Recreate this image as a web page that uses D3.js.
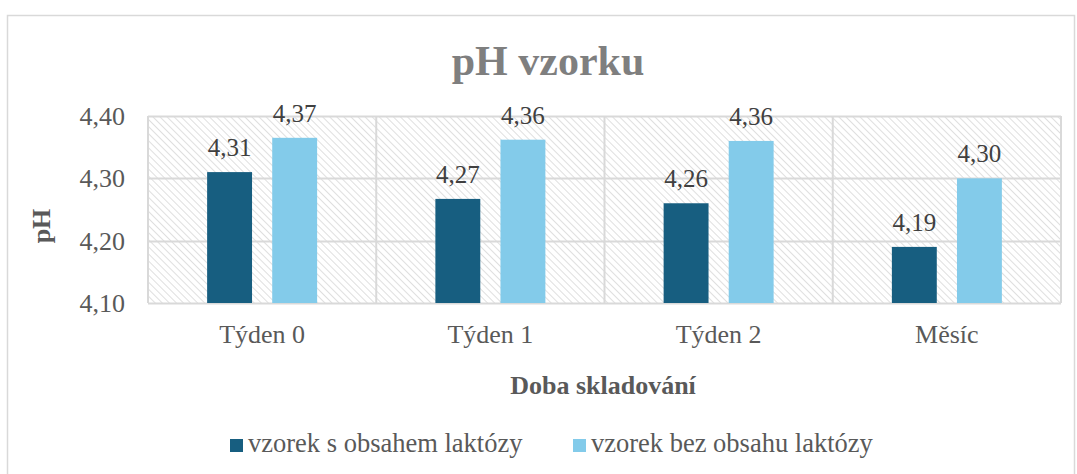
<!DOCTYPE html>
<html>
<head>
<meta charset="utf-8">
<script src="https://cdn.jsdelivr.net/npm/d3@7"></script>
<style>
	body { margin: 0; background: #fff; }
</style>
</head>
<body>
<svg id="chart" width="1077" height="474"></svg>
<script>
var categories = ["Týden 0", "Týden 1", "Týden 2", "Měsíc"];
var seriesNames = ["vzorek s obsahem laktózy", "vzorek bez obsahu laktózy"];
var withLactose = [4.31, 4.267, 4.26, 4.19];
var withoutLactose = [4.365, 4.362, 4.36, 4.30];
var valueLabels = [["4,31", "4,27", "4,26", "4,19"], ["4,37", "4,36", "4,36", "4,30"]];
var yTicks = [4.10, 4.20, 4.30, 4.40];
var colours = ["#175e80", "#83cbea"];

var font = "Liberation Serif";
var svg = d3.select("#chart");
var margin = {top: 116, left: 148, right: 1061, bottom: 303};

// outer frame
svg.append("rect")
	.attr("x", 7.5).attr("y", 15.5)
	.attr("width", 1067).attr("height", 470)
	.attr("fill", "#fff")
	.attr("stroke", "#d9d9d9")
	.attr("stroke-width", 1.5);

// hatch pattern for plot area
var defs = svg.append("defs");
var pat = defs.append("pattern")
	.attr("id", "hatch")
	.attr("patternUnits", "userSpaceOnUse")
	.attr("width", 5).attr("height", 5)
	.attr("patternTransform", "rotate(-45)");
pat.append("rect").attr("width", 5).attr("height", 5).attr("fill", "#fff");
pat.append("line")
	.attr("x1", 0).attr("y1", 0).attr("x2", 0).attr("y2", 5)
	.attr("stroke", "#dcdcdc").attr("stroke-width", 1.8);

var x = d3.scaleBand()
	.domain(categories)
	.range([margin.left, margin.right]);
var x1 = d3.scaleBand()
	.domain([0, 1])
	.range([0, 110])
	.paddingInner(0.31);
var y = d3.scaleLinear()
	.domain([4.10, 4.40])
	.range([margin.bottom, margin.top]);

svg.append("rect")
	.attr("x", margin.left).attr("y", margin.top)
	.attr("width", margin.right - margin.left)
	.attr("height", margin.bottom - margin.top)
	.attr("fill", "url(#hatch)");

// gridlines
svg.append("g")
	.selectAll("line")
	.data(yTicks)
	.join("line")
	.attr("x1", margin.left).attr("x2", margin.right)
	.attr("y1", function(d) { return Math.round(y(d)) + 0.5; })
	.attr("y2", function(d) { return Math.round(y(d)) + 0.5; })
	.attr("stroke", "#d9d9d9").attr("stroke-width", 2);

// vertical category separators
svg.append("g")
	.selectAll("line")
	.data(categories.concat(["end"]))
	.join("line")
	.attr("x1", function(d, i) { return i < categories.length ? x(d) : margin.right; })
	.attr("x2", function(d, i) { return i < categories.length ? x(d) : margin.right; })
	.attr("y1", margin.top).attr("y2", margin.bottom)
	.attr("stroke", "#d9d9d9").attr("stroke-width", 2);

// bars
var series = [withLactose, withoutLactose];
series.forEach(function(vals, s) {
	var g = svg.append("g");
	g.selectAll("rect")
		.data(vals)
		.join("rect")
		.attr("x", function(d, i) { return x(categories[i]) + x.bandwidth() / 2 - 55 + x1(s); })
		.attr("y", function(d) { return y(d); })
		.attr("width", x1.bandwidth())
		.attr("height", function(d) { return y(4.10) - y(d); })
		.attr("fill", colours[s]);
	g.selectAll("text")
		.data(vals)
		.join("text")
		.attr("x", function(d, i) { return x(categories[i]) + x.bandwidth() / 2 - 55 + x1(s) + x1.bandwidth() / 2; })
		.attr("y", function(d) { return y(d) - 16; })
		.attr("text-anchor", "middle")
		.attr("font-family", font)
		.attr("font-size", 25)
		.attr("fill", "#404040")
		.text(function(d, i) { return valueLabels[s][i]; });
});

// y axis labels
svg.append("g")
	.selectAll("text")
	.data(yTicks)
	.join("text")
	.attr("x", 125)
	.attr("y", function(d) { return y(d) + 9; })
	.attr("text-anchor", "end")
	.attr("font-family", font)
	.attr("font-size", 26)
	.attr("fill", "#595959")
	.text(function(d) { return d3.format(".2f")(d).replace(".", ","); });

// x axis labels
svg.append("g")
	.selectAll("text")
	.data(categories)
	.join("text")
	.attr("x", function(d) { return x(d) + x.bandwidth() / 2; })
	.attr("y", 343)
	.attr("text-anchor", "middle")
	.attr("font-family", font)
	.attr("font-size", 26)
	.attr("fill", "#595959")
	.text(function(d) { return d; });

// title
svg.append("text")
	.attr("x", 548).attr("y", 75)
	.attr("text-anchor", "middle")
	.attr("font-family", font)
	.attr("font-size", 42)
	.attr("font-weight", "bold")
	.attr("fill", "#7f7f7f")
	.text("pH vzorku");

// axis titles
svg.append("text")
	.attr("transform", "translate(50,226) rotate(-90)")
	.attr("text-anchor", "middle")
	.attr("font-family", font)
	.attr("font-size", 26)
	.attr("font-weight", "bold")
	.attr("fill", "#595959")
	.text("pH");
svg.append("text")
	.attr("x", 603).attr("y", 394)
	.attr("text-anchor", "middle")
	.attr("font-family", font)
	.attr("font-size", 26)
	.attr("font-weight", "bold")
	.attr("fill", "#595959")
	.text("Doba skladování");

// legend
var legendX = [230, 573];
seriesNames.forEach(function(name, i) {
	svg.append("rect")
		.attr("x", legendX[i]).attr("y", 439)
		.attr("width", 13).attr("height", 13)
		.attr("fill", colours[i]);
	svg.append("text")
		.attr("x", legendX[i] + 18).attr("y", 452)
		.attr("font-family", font)
		.attr("font-size", 26.5)
		.attr("fill", "#595959")
		.text(name);
});
</script>
</body>
</html>
